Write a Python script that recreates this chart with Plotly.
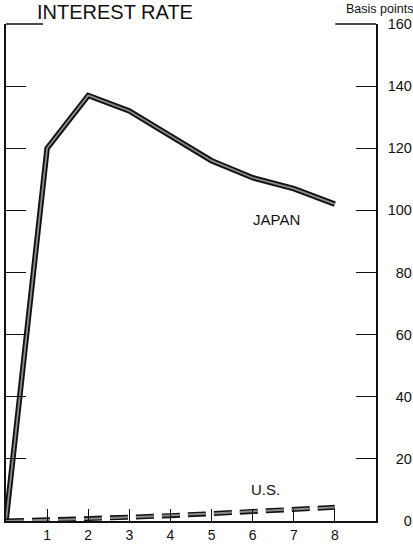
import plotly.graph_objects as go

quarters = [0, 1, 2, 3, 4, 5, 6, 7, 8]
japan = [0, 120, 137, 132, 124, 116, 110.5, 107, 102]
us = [0, 0.3, 0.7, 1.2, 1.7, 2.4, 3.1, 3.7, 4.4]
x_ticks = [1, 2, 3, 4, 5, 6, 7, 8]
y_ticks = [0, 20, 40, 60, 80, 100, 120, 140, 160]
y_labels = ["\u2007\u20070", "\u200720", "\u200740", "\u200760", "\u200780", "100", "120", "140", "160"]

FONT = "Liberation Sans, Arial, Helvetica, sans-serif"

fig = go.Figure()
# Japan: black outline with grey core
fig.add_trace(go.Scatter(x=quarters, y=japan, mode="lines",
                         line=dict(color="#111", width=5.5), hoverinfo="skip"))
fig.add_trace(go.Scatter(x=quarters, y=japan, mode="lines",
                         line=dict(color="#8a8a8a", width=1.8), hoverinfo="skip"))
# U.S.: dashed
fig.add_trace(go.Scatter(x=quarters, y=us, mode="lines",
                         line=dict(color="#111", width=5, dash="18px,8px"), hoverinfo="skip"))
fig.add_trace(go.Scatter(x=quarters, y=us, mode="lines",
                         line=dict(color="#8a8a8a", width=2, dash="18px,8px"), hoverinfo="skip"))

fig.update_layout(
    width=413, height=546,
    margin=dict(l=6, r=37, t=24, b=25, autoexpand=False),
    paper_bgcolor="white", plot_bgcolor="white",
    showlegend=False,
    font=dict(family=FONT, color="#111", size=14),
    xaxis=dict(range=[0, 9], tickvals=x_ticks, ticktext=[str(v) for v in x_ticks],
               showgrid=False, zeroline=False, showline=True, linecolor="#111", linewidth=1.5,
               ticks="inside", ticklen=12, tickwidth=1.2, tickcolor="#111",
               tickfont=dict(size=14), fixedrange=True, automargin=False),
    yaxis=dict(range=[0, 160], side="right", tickvals=y_ticks, ticktext=y_labels,
               showgrid=False, zeroline=False, showline=True, linecolor="#111", linewidth=1.5,
               mirror="ticks", ticks="inside", ticklen=20, tickwidth=1.2, tickcolor="#111",
               tickfont=dict(size=14.5), ticklabelstandoff=7, fixedrange=True, automargin=False),
)

# longer corner ticks at the top
fig.add_shape(type="line", xref="x domain", yref="y domain", x0=0, x1=0.1, y0=1, y1=1,
              line=dict(color="#111", width=1.5))
fig.add_shape(type="line", xref="x domain", yref="y domain", x0=0.89, x1=1, y0=1, y1=1,
              line=dict(color="#111", width=1.5))

fig.add_annotation(text="INTEREST RATE", xref="paper", yref="paper", x=29/370, y=1,
                   yshift=12, xanchor="left", yanchor="middle", showarrow=False,
                   font=dict(size=20, family=FONT))
fig.add_annotation(text="Basis points", xref="paper", yref="paper", x=(413 - 4) / 370, y=1,
                   yshift=15, xanchor="right", yanchor="middle", showarrow=False,
                   font=dict(size=12.5, family=FONT))
fig.add_annotation(text="JAPAN", x=6.57, y=97, xanchor="center", yanchor="middle",
                   showarrow=False, font=dict(size=15, family=FONT))
fig.add_annotation(text="U.S.", x=6.3, y=10.3, xanchor="center", yanchor="middle",
                   showarrow=False, font=dict(size=15, family=FONT))

fig.write_html("out.html", config={"displayModeBar": False},
               post_script="document.body.style.margin='0';document.body.style.overflow='hidden';")
